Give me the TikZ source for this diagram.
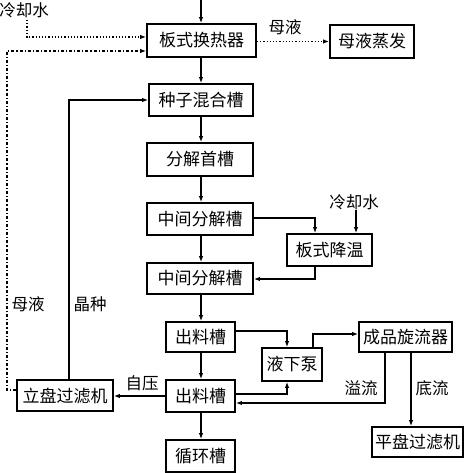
\documentclass[tikz,border=0pt]{standalone}
\usepackage{fontspec}
\setmainfont{Noto Sans CJK SC}
\usetikzlibrary{arrows.meta}
\begin{document}
\begin{tikzpicture}[x=1pt,y=-1pt,
  box/.style={draw,line width=1.8pt,inner sep=0pt,font=\fontsize{17}{19}\selectfont},
  lbl/.style={inner sep=0pt,font=\fontsize{16.5}{19}\selectfont},
  flow/.style={line width=1.2pt,-{Latex[length=6pt,width=4.5pt]}},
  dflow/.style={flow,dotted},
  ddflow/.style={flow,dash dot},
  ]
\useasboundingbox (0,0) rectangle (468,473);
% boxes
\node[box,minimum width=109pt,minimum height=33pt] (hx) at (201.5,40.5) {板式换热器};
\node[box,minimum width=84pt,minimum height=33pt] (ev) at (372,41.5) {母液蒸发};
\node[box,minimum width=104pt,minimum height=32pt] (mx) at (201,100) {种子混合槽};
\node[box,minimum width=106pt,minimum height=33pt] (f1) at (200,159.5) {分解首槽};
\node[box,minimum width=106pt,minimum height=32pt] (m1) at (200,219) {中间分解槽};
\node[box,minimum width=106pt,minimum height=31pt] (m2) at (200,278.5) {中间分解槽};
\node[box,minimum width=85pt,minimum height=32pt] (cool) at (329.5,250) {板式降温};
\node[box,minimum width=69pt,minimum height=30pt] (c1) at (200.5,337) {出料槽};
\node[box,minimum width=69pt,minimum height=32pt] (c2) at (200.5,396) {出料槽};
\node[box,minimum width=69pt,minimum height=32pt] (rc) at (200.5,456) {循环槽};
\node[box,minimum width=96pt,minimum height=31pt] (lp) at (65,395.5) {立盘过滤机};
\node[box,minimum width=60pt,minimum height=33pt] (pump) at (292,364.5) {液下泵};
\node[box,minimum width=93pt,minimum height=30pt] (cy) at (405.5,337) {成品旋流器};
\node[box,minimum width=91pt,minimum height=30pt] (pp) at (417.5,442) {平盘过滤机};
% labels
\node[lbl] (cwl) at (24,10) {冷却水};
\node[lbl] (ml1) at (285,27) {母液};
\node[lbl] (cwr) at (354,202) {冷却水};
\node[lbl] (ml2) at (28,304) {母液};
\node[lbl] (js) at (90,304) {晶种};
\node[lbl] (zy) at (142,383) {自压};
\node[lbl] (yl) at (361,388) {溢流};
\node[lbl] (dl) at (432,388) {底流};
% coordinates
\coordinate (top) at (201,0);
% main column
\draw[flow] (top) -- (hx.north -| top);
\draw[flow] (hx.south -| top) -- (mx.north -| top);
\draw[flow] (mx.south -| top) -- (f1.north -| top);
\draw[flow] (f1.south -| top) -- (m1.north -| top);
\draw[flow] (m1.south -| top) -- (m2.north -| top);
\draw[flow] (m2.south -| top) -- (c1.north -| top);
\draw[flow] (c1.south -| top) -- (c2.north -| top);
\draw[flow] (c2.south -| top) -- (rc.north -| top);
% mother liquor to evaporation
\draw[dflow] (hx.east |- ev.west) -- (ev.west);
% cooling water top-left
\draw[dflow] (27,20) -- (27,37) -- (hx.west |- 0,37);
% mother liquor return
\draw[ddflow] (lp.west |- 0,390) -- (7,390) -- (7,51) -- (hx.west |- 0,51);
% seed
\draw[flow] (lp.north -| 69,0) -- (69,100) -- (mx.west);
% self pressure
\draw[flow] (c2.west) -- (lp.east |- c2.west);
% plate cooling
\draw[flow] (m1.east |- 0,218) -- (315,218) -- (cool.north -| 315,0);
\draw[flow] (cwr.south -| 356,0) -- (cool.north -| 356,0);
\draw[flow] (cool.south -| 315,0) -- (315,279) -- (m2.east |- 0,279);
% pump
\draw[flow] (c1.east |- 0,331) -- (287,331) -- (pump.north -| 287,0);
\draw[flow] (c2.east |- 0,394) -- (287,394) -- (pump.south -| 287,0);
\draw[flow] (pump.north -| 313,0) -- (313,334) -- (cy.west |- 0,334);
% cyclone
\draw[flow] (cy.south -| 385,0) -- (385,403) -- (c2.east |- 0,403);
\draw[flow] (cy.south -| 411,0) -- (pp.north -| 411,0);
\end{tikzpicture}
\end{document}
